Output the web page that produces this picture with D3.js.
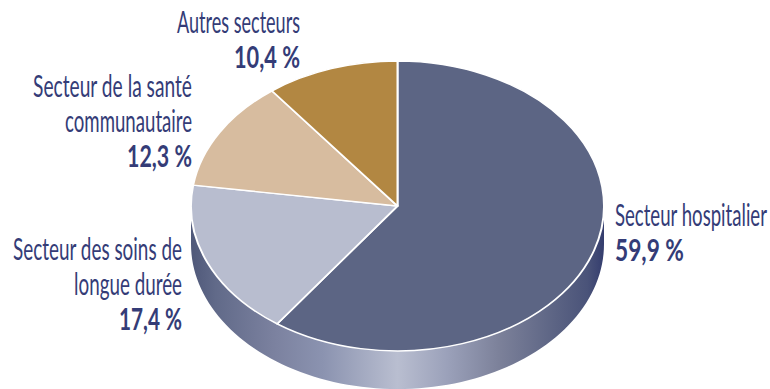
<!DOCTYPE html>
<html lang="fr">
<head>
<meta charset="utf-8">
<script src="https://cdn.jsdelivr.net/npm/d3@7/dist/d3.min.js"></script>
<style>
html,body{margin:0;padding:0;background:#fff;}
svg{display:block;}
text{font-family:"Lato","Open Sans",sans-serif;fill:#343c77;}
</style>
</head>
<body>
<svg id="chart" width="770" height="389"></svg>
<script>
// Répartition par secteur, dans le sens horaire depuis midi
const shares = [59.9,17.4,12.3,10.4];
const valueLabels = ["59,9 %","17,4 %","12,3 %","10,4 %"];
const sliceColors = ["#5c6584","#b8bdcf","#d7bc9f","#b28742"];
const labelLines = [["Secteur hospitalier"],["Secteur des soins de","longue durée"],["Secteur de la santé","communautaire"],["Autres secteurs"]];
const lineWidths = [[152],[169,108],[159,127],[123]];
const valueWidths = [69,63,65,66];
const labelAnchors = [[615,226,"start"],[182,260,"end"],[192,97,"end"],[300,33,"end"]];

const cx=397.5, cy=206, rx=206.5, ry=145, depth=38;
const wallStops=[[0,"#4f5879"],[0.06,"#616a89"],[0.2,"#7b819f"],[0.32,"#8b93b0"],[0.5,"#b9bed0"],[0.62,"#9ba1ba"],[0.75,"#7b8099"],[0.88,"#5c6484"],[0.96,"#4a5379"],[1,"#343d6e"]];

const svg=d3.select("#chart");
const grad=svg.append("defs").append("linearGradient").attr("id","wall")
  .attr("gradientUnits","userSpaceOnUse").attr("x1",cx-rx).attr("x2",cx+rx).attr("y1",0).attr("y2",0);
wallStops.forEach(s=>grad.append("stop").attr("offset",s[0]).attr("stop-color",s[1]));

// Paroi du disque : demi-ellipse inférieure extrudée vers le bas
const halfTurn=d3.range(0,181,2).map(d=>d*Math.PI/180);
const rim=halfTurn.map(a=>[cx+rx*Math.cos(a),cy+ry*Math.sin(a)]);
const wallOutline=rim.map(p=>[p[0],p[1]+depth]).concat(rim.slice().reverse());
svg.append("path").attr("d",d3.line()(wallOutline)+"Z").attr("fill","url(#wall)");

// Dessus du disque : un camembert aplati verticalement
const pie=d3.pie().sort(null).value(d=>d);
const arc=d3.arc().innerRadius(0).outerRadius(rx);
svg.append("g").attr("transform",`translate(${cx},${cy}) scale(1,${ry/rx})`)
  .selectAll("path").data(pie(shares)).join("path")
  .attr("d",arc).attr("fill",(d,i)=>sliceColors[i])
  .attr("stroke","#fff").attr("stroke-width",2).attr("stroke-linejoin","round");

// Libellés condensés horizontalement pour tenir dans la largeur voulue
const lineGap=35;
const fitted=(x,y,anchor,t,w,weight)=>{
  const el=svg.append("text").attr("text-anchor",anchor).attr("font-size",30).attr("font-weight",weight).text(t);
  const k=w/el.node().getComputedTextLength();
  el.attr("transform",`translate(${x},${y}) scale(${k},1)`);
};
labelLines.forEach((lines,i)=>{
  const [x,y,anchor]=labelAnchors[i];
  lines.forEach((t,j)=>fitted(x,y+j*lineGap,anchor,t,lineWidths[i][j],400));
  fitted(x,y+lines.length*lineGap,anchor,valueLabels[i],valueWidths[i],700);
});
</script>
</body>
</html>
